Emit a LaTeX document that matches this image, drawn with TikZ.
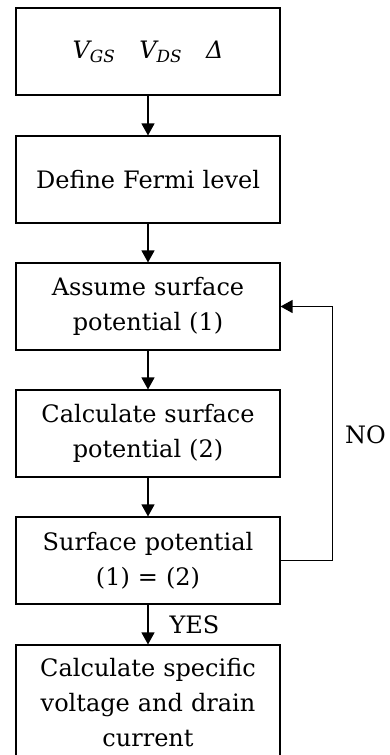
\documentclass[tikz,border=0pt]{standalone}
\usepackage{fontspec}
\setmainfont{DejaVu Serif}
\usepackage{tikz}
\usetikzlibrary{arrows.meta, positioning}

\begin{document}
\begin{tikzpicture}[
  x=1pt, y=-1pt,
  stage/.style={rectangle, draw=black, line width=1.1pt, fill=white,
    minimum width=264pt, minimum height=87pt, text width=256pt, align=center,
    font=\fontsize{24}{35}\selectfont, inner sep=0pt},
  flow/.style={-{Triangle[width=13pt,length=12pt]}, line width=1.2pt},
  tag/.style={font=\fontsize{24}{28}\selectfont, inner sep=0pt}
]
\useasboundingbox (0,0) rectangle (389,755);
\clip (0,0) rectangle (389,755);

\node[stage] (inputs)  at (148,51.5)  {\itshape V\textsubscript{GS}\quad V\textsubscript{DS}\quad Δ};
\node[stage] (fermi)   at (148,179.5) {Define Fermi level};
\node[stage] (assume)  at (148,306.5) {Assume surface\\potential (1)};
\node[stage] (calc)    at (148,433.5) {Calculate surface\\potential (2)};
\node[stage] (check)   at (148,560.5) {Surface potential\\(1) = (2)};
\node[stage, minimum height=116pt] (result) at (148,703) {Calculate specific\\voltage and drain\\current};

% Main flow
\draw[flow] (inputs) -- (fermi);
\draw[flow] (fermi) -- (assume);
\draw[flow] (assume) -- (calc);
\draw[flow] (calc) -- (check);
\draw[flow] (check) -- (result) node[midway, tag, anchor=west, xshift=21pt]{YES};

% Loop back
\coordinate (turn) at ([xshift=52pt]check.east);
\draw[flow] (check.east) -- (turn) |- (assume.east);
\node[tag, anchor=west] (no) at (345,435) {NO};

\end{tikzpicture}
\end{document}
